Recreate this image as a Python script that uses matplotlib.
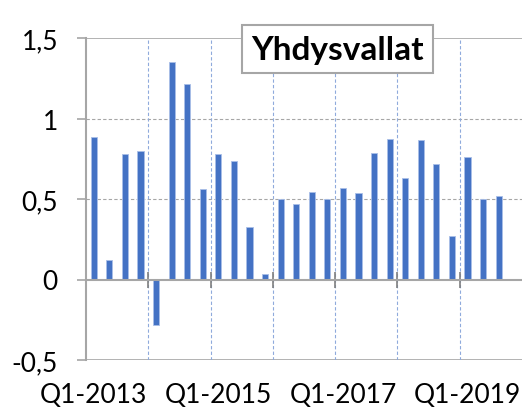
import matplotlib
matplotlib.use("Agg")
import matplotlib.pyplot as plt
import numpy as np

plt.rcParams['font.family'] = ['Lato', 'DejaVu Sans']

quarters = [f"Q{q}-{y}" for y in range(2013, 2020) for q in range(1, 5)]
values = [0.885, 0.123, 0.782, 0.796,
          -0.28, 1.35, 1.216, 0.562,
          0.782, 0.739, 0.329, 0.033,
          0.502, 0.469, 0.541, 0.502,
          0.566, 0.535, 0.788, 0.872,
          0.630, 0.864, 0.720, 0.272,
          0.763, 0.498, 0.521, np.nan]
y_ticks = [-0.5, 0, 0.5, 1, 1.5]
y_ticklabels = ["-0,5", "0", "0,5", "1", "1,5"]
title = "Yhdysvallat"

fig = plt.figure(figsize=(5.22, 4.10), dpi=100)
ax = fig.add_axes([86/522, 49/410, 1 - 86/522, (361-39)/410])

x = np.arange(len(quarters))
ax.bar(x, values, width=0.4, color="#4472C4", edgecolor="#A9BFE8", linewidth=0.6, zorder=3)

ax.set_xlim(-0.5, len(quarters) - 0.5)
ax.set_ylim(-0.5, 1.5)

# gridlines
for yv in [0.5, 1.0]:
    ax.axhline(yv, color="#A6A6A6", lw=0.8, ls=(0, (3, 2)), zorder=1)
for yv in [1.5, -0.5]:
    ax.axhline(yv, color="#A6A6A6", lw=1.2, zorder=1)
boundaries = np.arange(3.5, len(quarters) - 1, 4)
for b in boundaries:
    ax.axvline(b, color="#8FAADC", lw=0.8, ls=(0, (3, 2)), zorder=1)

for s in ['top', 'right']:
    ax.spines[s].set_visible(False)
ax.spines['left'].set_color("#A6A6A6")
ax.spines['left'].set_linewidth(1.5)
ax.spines['bottom'].set_position(('data', 0))
ax.spines['bottom'].set_color("#A6A6A6")
ax.spines['bottom'].set_linewidth(1.5)
ax.spines['bottom'].set_zorder(4)

ax.set_yticks(y_ticks)
ax.set_yticklabels(y_ticklabels)
ax.tick_params(axis='y', length=6.7, width=1.2, color="#A6A6A6", pad=13.5,
               labelsize=19, labelcolor="#000000")

ax.set_xticks(boundaries, minor=True)
ax.set_xticks([])
ax.tick_params(axis='x', which='minor', direction='inout', length=12, width=1.2,
               color="#7F7F7F")

sec = ax.secondary_xaxis(0)
sec.set_xticks(x[::8])
sec.set_xticklabels([quarters[i] for i in range(0, len(quarters), 8)])
sec.tick_params(length=0, pad=16, labelsize=19)
sec.spines['bottom'].set_visible(False)

ax.text(0.577, 0.965, title, transform=ax.transAxes, ha='center', va='center',
        fontsize=24, fontweight='bold', zorder=6,
        bbox=dict(boxstyle='square,pad=0.28', facecolor='white', edgecolor='#A6A6A6', lw=1.5))

fig.savefig("out.png", dpi=100)
